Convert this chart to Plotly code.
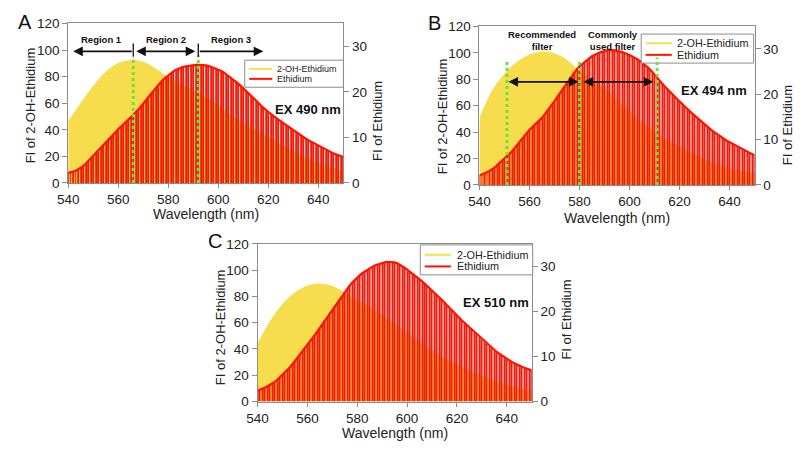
import plotly.graph_objects as go

W, H = 800, 454

# wavelength grids (nm)
wl = list(range(540, 651))          # 1 nm steps for the Ethidium bars
wl5 = list(range(540, 651, 5))      # 5 nm steps for 2-OH-Ethidium

# 2-OH-Ethidium (left axis), read every 5 nm
oh_a = [46.3, 60, 73, 83.5, 90, 92.3, 91, 86, 79.5, 74.5, 69.5, 64.5, 58, 51,
        44.5, 39.5, 34.5, 29, 23.5, 18.8, 15, 11.6, 8.7]
oh_b = [50.5, 71, 84, 93, 98.5, 100.7, 99.5, 94.5, 86, 79, 72.5, 64, 56, 47,
        40, 33.5, 29, 24, 19.5, 15.5, 12.5, 10.5, 8.8]
oh_c = [44.2, 61, 74, 83, 88, 89.6, 87.8, 83, 77, 72, 66, 58.5, 52.5, 45,
        38.5, 33, 28, 23.5, 19.5, 15.8, 12.5, 10, 8.1]

# Ethidium (right axis), read every 1 nm
et_a = [2.2, 2.3, 2.5, 2.7, 3.0, 3.3, 3.7, 4.2, 4.8, 5.4, 5.9, 6.5, 7.1, 7.7, 8.3,
        8.9, 9.5, 10.1, 10.7, 11.3, 11.8, 12.3, 12.8, 13.3, 13.9, 14.4, 14.9, 15.5,
        16.1, 16.7, 17.4, 18.1, 18.8, 19.5, 20.2, 20.9, 21.5, 22.1, 22.7, 23.2, 23.7,
        24.1, 24.5, 24.8, 25.1, 25.3, 25.5, 25.6, 25.7, 25.8, 25.9, 25.9, 25.9, 25.9,
        25.8, 25.8, 25.7, 25.5, 25.3, 25.1, 24.9, 24.6, 24.3, 23.9, 23.5, 23.1, 22.7,
        22.3, 21.8, 21.3, 20.8, 20.3, 19.8, 19.3, 18.8, 18.2, 17.6, 17.0, 16.5, 16.0,
        15.5, 15.1, 14.7, 14.3, 13.9, 13.5, 13.1, 12.7, 12.3, 11.9, 11.5, 11.1, 10.7,
        10.3, 10.0, 9.7, 9.4, 9.1, 8.8, 8.5, 8.2, 7.9, 7.6, 7.3, 7.0, 6.8, 6.5, 6.3,
        6.1, 5.9, 5.7]
et_b = [2.1, 2.3, 2.5, 2.8, 3.1, 3.4, 3.8, 4.3, 4.8, 5.3, 5.8, 6.2, 6.7, 7.4, 8.1,
        8.8, 9.5, 10.2, 10.9, 11.6, 12.2, 12.7, 13.2, 13.8, 14.3, 14.8, 15.5, 16.2,
        17.0, 17.7, 18.5, 19.3, 20.1, 20.9, 21.7, 22.5, 23.3, 24.1, 24.9, 25.6, 26.2,
        26.7, 27.2, 27.6, 28.0, 28.4, 28.7, 29.0, 29.2, 29.4, 29.6, 29.7, 29.8, 29.8,
        29.7, 29.6, 29.5, 29.3, 29.1, 28.9, 28.7, 28.4, 28.1, 27.8, 27.4, 27.0, 26.6,
        26.2, 25.6, 25.0, 24.3, 23.6, 23.0, 22.4, 21.8, 21.2, 20.6, 20.0, 19.4, 18.9,
        18.4, 17.9, 17.3, 16.8, 16.3, 15.8, 15.3, 14.8, 14.3, 13.8, 13.3, 12.8, 12.4,
        12.0, 11.6, 11.2, 10.8, 10.4, 10.0, 9.7, 9.4, 9.1, 8.8, 8.5, 8.2, 7.9, 7.6,
        7.3, 7.1, 6.8, 6.6]
et_c = [2.4, 2.6, 2.8, 3.1, 3.4, 3.7, 4.0, 4.4, 4.9, 5.4, 5.9, 6.4, 6.9, 7.6, 8.3,
        9.0, 9.7, 10.4, 11.1, 11.8, 12.5, 13.3, 14.0, 14.8, 15.6, 16.4, 17.2, 18.0,
        18.8, 19.6, 20.4, 21.2, 22.0, 22.8, 23.6, 24.4, 25.1, 25.8, 26.4, 27.0, 27.5,
        28.0, 28.5, 28.9, 29.3, 29.6, 29.9, 30.2, 30.4, 30.6, 30.8, 30.9, 31.0, 31.0,
        31.0, 30.9, 30.7, 30.4, 30.1, 29.7, 29.3, 28.9, 28.5, 28.1, 27.7, 27.2, 26.7,
        26.2, 25.7, 25.2, 24.6, 24.1, 23.6, 23.1, 22.6, 22.0, 21.4, 20.8, 20.2, 19.6,
        19.1, 18.6, 18.0, 17.5, 17.0, 16.4, 15.9, 15.3, 14.8, 14.3, 13.8, 13.3, 12.8,
        12.3, 11.8, 11.4, 11.0, 10.6, 10.2, 9.8, 9.4, 9.1, 8.8, 8.5, 8.2, 7.9, 7.7,
        7.5, 7.3, 7.1, 6.9]

ex_labels = ["EX 490 nm", "EX 494 nm", "EX 510 nm"]
panel_letters = ["A", "B", "C"]
region_names = ["Region 1", "Region 2", "Region 3"]
region_bounds = [566, 592]
filter_marks = [551, 580, 611]

YELLOW = "#F7DC4E"
RED = "#EE1C0C"
GREEN = "#66E636"
GRAY = "#8C8C8C"
FONT = "Liberation Sans, Arial, sans-serif"


def px(x):
    return x / W


def py(y):
    return 1 - y / H


def paper_text(x, y, text, size, angle=0, xanchor="center", color="#222"):
    return dict(x=px(x), y=py(y), xref="paper", yref="paper", text=text,
                showarrow=False, textangle=angle, xanchor=xanchor, yanchor="middle",
                font=dict(size=size, color=color, family=FONT))


# plot boxes in pixels: left, right, top, bottom
boxes = [(58, 337, 17, 182), (475, 754, 20, 184), (250, 528, 245, 408)]
panels = [(oh_a, et_a), (oh_b, et_b), (oh_c, et_c)]

fig = go.Figure()
layout = {}
for i, ((oh, et), (l, r, t, b)) in enumerate(zip(panels, boxes)):
    xn = "" if i == 0 else str(i + 1)
    yl = str(2 * i + 1) if i else ""
    yr = str(2 * i + 2)
    xa, ya, ya2 = "x" + xn, "y" + yl, "y" + yr

    fig.add_trace(go.Scatter(x=wl5, y=oh, xaxis=xa, yaxis=ya, mode="lines",
                             fill="tozeroy", fillcolor=YELLOW,
                             line=dict(color=YELLOW, width=0.5, shape="spline"),
                             showlegend=False, hoverinfo="skip"))
    fig.add_trace(go.Bar(x=wl, y=et, xaxis=xa, yaxis=ya2, width=0.4,
                         marker=dict(color=RED, line_width=0), showlegend=False))
    fig.add_trace(go.Scatter(x=wl, y=et, xaxis=xa, yaxis=ya2, mode="lines",
                             line=dict(color="#FF1200", width=2.2),
                             showlegend=False))

    common = dict(showline=True, linecolor=GRAY, linewidth=1, showgrid=False,
                  zeroline=False, ticks="outside", tickcolor=GRAY,
                  tickfont=dict(size=13.5, color="#222", family=FONT))
    layout["xaxis" + xn] = dict(domain=[px(l), px(r)], anchor=ya, range=[540, 650],
                                tickvals=[540, 560, 580, 600, 620, 640], ticklen=4,
                                mirror=True, **common)
    layout["yaxis" + yl] = dict(domain=[py(b), py(t)], anchor=xa, range=[0, 120],
                                dtick=20, ticklen=5, **common)
    layout["yaxis" + yr] = dict(domain=[py(b), py(t)], anchor=xa, range=[0, 35],
                                overlaying=ya, side="right", tickvals=[0, 10, 20, 30],
                                ticklen=5, **common)

shapes = []
annotations = []

# axis titles and panel letters
title_pos = [
    # x title, left title, right title, letter (centres in pixels)
    ((197.5, 214), (20, 102), (371, 118), (14, 15)),
    ((614.5, 218), (437, 113), (788, 122), (429, 17)),
    ((389, 441), (212, 331), (563, 323), (207, 242)),
]
for i, (xt, ylt, yrt, let) in enumerate(title_pos):
    annotations.append(paper_text(xt[0], xt[1], "Wavelength (nm)", 14))
    annotations.append(paper_text(ylt[0], ylt[1], "FI of 2-OH-Ethidium", 13, angle=-90))
    annotations.append(paper_text(yrt[0], yrt[1], "FI of Ethidium", 13, angle=-90))
    annotations.append(paper_text(let[0], let[1], panel_letters[i], 20, color="#111"))

# EX labels (data coords on left axes)
ex_pos = [("x", "y", 636, 55.5), ("x2", "y3", 633.7, 71.5), ("x3", "y5", 635.6, 75.3)]
for (xr, yr, xv, yv), lab in zip(ex_pos, ex_labels):
    annotations.append(dict(x=xv, y=yv, xref=xr, yref=yr, text="<b>%s</b>" % lab,
                            showarrow=False, xanchor="center", yanchor="middle",
                            font=dict(size=13, color="#111", family=FONT)))

# hand-drawn legends (box, line keys and labels)
legend_boxes = [
    # box l, r, t, b ; key x0, x1 ; row y's ; text x ; font size
    (237, 337, 55, 83, 241.5, 265, (64, 74.3), 268, 9),
    (639, 753, 28, 58, 643.5, 670, (37.5, 49.5), 673.5, 10.8),
    (415, 529, 246, 277, 419.5, 446, (256.3, 268.3), 450.5, 10.8),
]
for (l, r, t, b, lx0, lx1, rows, tx, fs) in legend_boxes:
    shapes.append(dict(type="rect", xref="paper", yref="paper", x0=px(l), x1=px(r),
                       y0=py(b), y1=py(t), line=dict(color=GRAY, width=1),
                       fillcolor="white", layer="above"))
    for row, name, col in zip(rows, ["2-OH-Ethidium", "Ethidium"], ["#F5E04A", "#FF1200"]):
        shapes.append(dict(type="line", xref="paper", yref="paper", x0=px(lx0),
                           x1=px(lx1), y0=py(row), y1=py(row),
                           line=dict(color=col, width=2)))
        annotations.append(paper_text(tx, row, name, fs, xanchor="left"))

# Panel A: regions
for xv, top in zip(region_bounds, [94, 96]):
    shapes.append(dict(type="line", xref="x", yref="y", x0=xv, x1=xv, y0=0, y1=top,
                       line=dict(color=GREEN, width=3, dash="3px,3px")))
    shapes.append(dict(type="line", xref="x", yref="y", x0=xv, x1=xv, y0=95, y1=105,
                       line=dict(color="#111", width=1.3)))
arrow = dict(xref="x", yref="y", axref="x", ayref="y", text="", showarrow=True,
             arrowcolor="#111", arrowwidth=1.6, arrowsize=1.2, arrowhead=2,
             startarrowhead=2, startarrowsize=1.2)
annotations.append(dict(arrow, x=542, y=99, ax=566, ay=99, arrowside="end"))
annotations.append(dict(arrow, x=590.8, y=99, ax=566.6, ay=99, arrowside="end+start"))
annotations.append(dict(arrow, x=618, y=99, ax=592, ay=99, arrowside="end"))
for name, xv in zip(region_names, [553.4, 579, 605]):
    annotations.append(dict(x=xv, y=107.6, xref="x", yref="y", text="<b>%s</b>" % name,
                            showarrow=False, xanchor="center", yanchor="middle",
                            font=dict(size=9.5, color="#111", family=FONT)))

# Panel B: filters
for xv, top in zip(filter_marks, [94.5, 94.5, 96.5]):
    shapes.append(dict(type="line", xref="x2", yref="y3", x0=xv, x1=xv, y0=0, y1=top,
                       line=dict(color=GREEN, width=3, dash="3px,3px")))
arrow_b = dict(arrow, xref="x2", yref="y3", axref="x2", ayref="y3")
annotations.append(dict(arrow_b, x=579.6, y=78, ax=551, ay=78, arrowside="end+start"))
annotations.append(dict(arrow_b, x=609.5, y=78, ax=581, ay=78, arrowside="end+start"))
annotations.append(dict(x=565, y=109.2, xref="x2", yref="y3",
                        text="<b>Recommended</b><br><b>filter</b>", showarrow=False,
                        xanchor="center", yanchor="middle",
                        font=dict(size=9.5, color="#111", family=FONT)))
annotations.append(dict(x=593.5, y=109.2, xref="x2", yref="y3",
                        text="<b>Commonly</b><br><b>used filter</b>", showarrow=False,
                        xanchor="center", yanchor="middle",
                        font=dict(size=9.5, color="#111", family=FONT)))

fig.update_layout(
    width=W, height=H,
    margin=dict(l=0, r=0, t=0, b=0),
    paper_bgcolor="white", plot_bgcolor="white",
    showlegend=False,
    shapes=shapes, annotations=annotations,
    font=dict(family=FONT),
    **layout
)

# drop the default page margin so the figure sits at the window's corner
fig.write_html("out.html", config={"displayModeBar": False},
               post_script="document.body.style.margin='0';")
